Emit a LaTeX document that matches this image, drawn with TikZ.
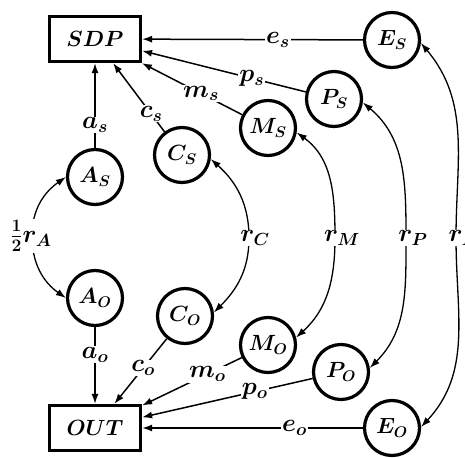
\documentclass[tikz,border=0pt]{standalone}
\usepackage{fix-cm}
\usetikzlibrary{arrows.meta}
\begin{document}
\begin{tikzpicture}[x=1pt,y=1pt,
  every node/.style={font=\fontsize{22}{26}\selectfont\boldmath},
  box/.style={draw, line width=3.2pt, minimum width=91pt, minimum height=45pt, inner sep=0pt},
  st/.style={draw, circle, line width=3.2pt, minimum size=55pt, inner sep=0pt},
  lab/.style={fill=white, inner sep=1pt, font=\fontsize{25}{28}\selectfont\boldmath},
  arr/.style={line width=1.5pt, -{Latex[length=10pt,width=7pt]}},
  carr/.style={line width=1.3pt, {Latex[length=10pt,width=7pt]}-{Latex[length=10pt,width=7pt]}},
]
\useasboundingbox (0,0) rectangle (465,-457);
\clip (0,0) rectangle (465,-457);
% main boxes
\node[box] (SDP) at (95,-39) {$SDP$};
\node[box] (OUT) at (95,-428) {$OUT$};
% states
\node[st] (AS) at (95,-177) {$A_S$};
\node[st] (CS) at (182,-155) {$C_S$};
\node[st] (MS) at (268,-128) {$M_S$};
\node[st] (PS) at (334,-99) {$P_S$};
\node[st] (ES) at (392,-40) {$E_S$};
\node[st] (AO) at (95,-298) {$A_O$};
\node[st] (CO) at (185,-316) {$C_O$};
\node[st] (MO) at (268,-345) {$M_O$};
\node[st] (PO) at (341,-372) {$P_O$};
\node[st] (EO) at (392,-428) {$E_O$};
% straight edges
\draw[arr] (ES) -- node[lab,pos=0.385]{$e_s$} (SDP);
\draw[arr] (PS) -- node[lab,pos=0.33]{$p_s$} (SDP);
\draw[arr] (MS) -- node[lab,pos=0.41]{$m_s$} (SDP);
\draw[arr] (CS) -- node[lab,pos=0.26]{$c_s$} (SDP);
\draw[arr] (AS) -- node[lab,pos=0.27]{$a_s$} (SDP);
\draw[arr] (AO) -- node[lab,pos=0.36]{$a_o$} (OUT);
\draw[arr] (CO) -- node[lab,pos=0.45]{$c_o$} (OUT);
\draw[arr] (MO) -- node[lab,pos=0.345]{$m_o$} (OUT);
\draw[arr] (PO) -- node[lab,pos=0.34]{$p_o$} (OUT);
\draw[arr] (EO) -- node[lab,pos=0.31]{$e_o$} (OUT);
% curved rate edges
\coordinate (xA) at (32,-236);
\coordinate (xC) at (249,-238);
\coordinate (xM) at (335,-238);
\coordinate (xP) at (406,-238);
\coordinate (xE) at (456,-238);
\draw[carr] (AS.west) to[out=-145,in=90] (xA) to[out=-90,in=145] (AO.west);
\draw[carr] (CS.-8) to[out=-42,in=90] (xC) to[out=-90,in=45] (CO.7);
\draw[carr] (MS.-9) to[out=-36,in=90] (xM) to[out=-90,in=42] (MO.15);
\draw[carr] (PS.-7) to[out=-40,in=90] (xP) to[out=-90,in=45] (PO.8);
\draw[carr] (ES.-6) to[out=-50,in=90] (xE) to[out=-90,in=47] (EO.2);
\node[lab] (rA) at (31,-236) {$\frac{1}{2}r_A$};
\node[lab] (rC) at (255,-238) {$r_C$};
\node[lab] (rM) at (342,-238) {$r_M$};
\node[lab] (rP) at (413,-238) {$r_P$};
\node[lab] (rE) at (463,-238) {$r_E$};
\end{tikzpicture}
\end{document}
